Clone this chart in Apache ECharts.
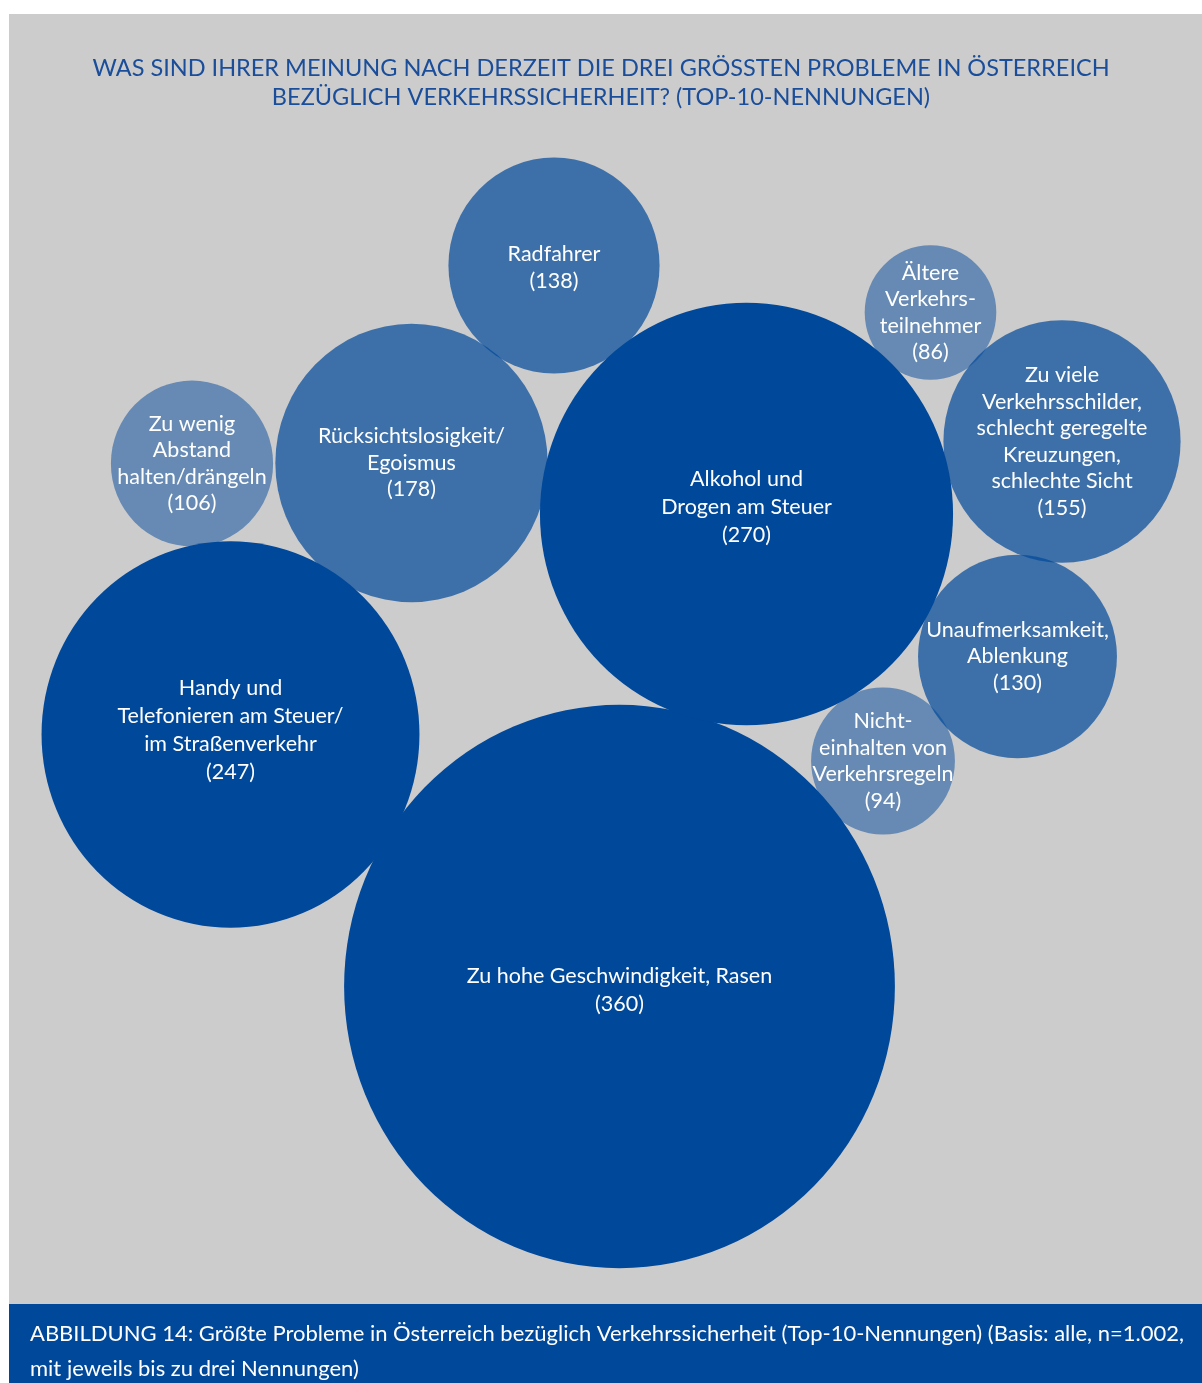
<!DOCTYPE html>
<html>
<head>
<meta charset="utf-8">
<script src="https://cdn.jsdelivr.net/npm/echarts@6/dist/echarts.min.js"></script>
<style>
html,body{margin:0;padding:0;background:#ffffff;}
#chart{width:1202px;height:1383px;}
</style>
</head>
<body>
<div id="chart"></div>
<script>
// ---- data ----
var titleLines = [
  'WAS SIND IHRER MEINUNG NACH DERZEIT DIE DREI GRÖSSTEN PROBLEME IN ÖSTERREICH',
  'BEZÜGLICH VERKEHRSSICHERHEIT? (TOP-10-NENNUNGEN)'
];
var captionLines = [
  'ABBILDUNG 14: Größte Probleme in Österreich bezüglich Verkehrssicherheit (Top-10-Nennungen) (Basis: alle, n=1.002,',
  'mit jeweils bis zu drei Nennungen)'
];
var categories = [
  'Zu hohe Geschwindigkeit, Rasen',
  'Alkohol und\nDrogen am Steuer',
  'Handy und\nTelefonieren am Steuer/\nim Straßenverkehr',
  'Rücksichtslosigkeit/\nEgoismus',
  'Zu viele\nVerkehrsschilder,\nschlecht geregelte\nKreuzungen,\nschlechte Sicht',
  'Radfahrer',
  'Unaufmerksamkeit,\nAblenkung',
  'Zu wenig\nAbstand\nhalten/drängeln',
  'Nicht-\neinhalten von\nVerkehrsregeln',
  'Ältere\nVerkehrs-\nteilnehmer'
];
var values = [360, 270, 247, 178, 155, 138, 130, 106, 94, 86];
// bubble centres (layout units)
var centerX = [619.5, 746.5, 230.5, 411.5, 1062, 554, 1017.5, 192, 883, 930.5];
var centerY = [986.5, 514, 734.5, 463, 441.5, 265.5, 656.5, 463.5, 761, 312.5];
// shade group: 0 dark, 1 medium, 2 light
var shade = [0, 0, 0, 1, 1, 1, 1, 2, 2, 2];

// ---- styling ----
var shadeColors = ['rgba(0,72,154,1)', 'rgba(0,72,154,0.7)', 'rgba(0,72,154,0.5)'];
var FONT = 'Lato, "Noto Sans", sans-serif';
var labelShift = [4, -7, -4, 0, 0, 2, 0, 0, 0, 0];

var data = values.map(function (v, i) {
  var big = shade[i] === 0;
  return {
    value: [centerX[i], centerY[i], v],
    name: categories[i],
    itemStyle: { color: shadeColors[shade[i]], opacity: 1 },
    label: {
      fontSize: 21.5,
      lineHeight: big ? 28 : 26.5,
      offset: [0, labelShift[i]]
    }
  };
});

var chart = echarts.init(document.getElementById('chart'), null, { renderer: 'canvas' });
chart.setOption({
  animation: false,
  backgroundColor: '#ffffff',
  graphic: [
    { type: 'rect', z: -10, shape: { x: 9, y: 14, width: 1193, height: 1290 }, style: { fill: '#cccccc' } },
    { type: 'rect', z: -10, shape: { x: 9, y: 1304, width: 1193, height: 79 }, style: { fill: '#00489a' } },
    { type: 'text', z: 10, left: 30, top: 1316,
      style: { text: captionLines.join('\n'), fill: '#ffffff', font: '22px ' + FONT, lineHeight: 35 } }
  ],
  title: {
    text: titleLines.join('\n'),
    left: 'center',
    top: 49,
    textStyle: { color: '#1a4d9a', fontSize: 23.5, fontWeight: 'normal', fontFamily: FONT, lineHeight: 29 }
  },
  grid: { left: 0, right: 0, top: 0, bottom: 0 },
  xAxis: { type: 'value', min: 0, max: 1202, show: false },
  yAxis: { type: 'value', min: 0, max: 1383, inverse: true, show: false },
  series: [{
    type: 'scatter',
    data: data,
    symbol: 'circle',
    symbolSize: function (val) { return [val[2] * 1.53, val[2] * 1.565]; },
    itemStyle: { opacity: 1 },
    label: {
      show: true,
      position: 'inside',
      color: '#ffffff',
      fontFamily: FONT,
      align: 'center',
      verticalAlign: 'middle',
      formatter: function (p) { return p.name + '\n(' + p.value[2] + ')'; }
    },
    emphasis: { disabled: true }
  }]
});
</script>
</body>
</html>
